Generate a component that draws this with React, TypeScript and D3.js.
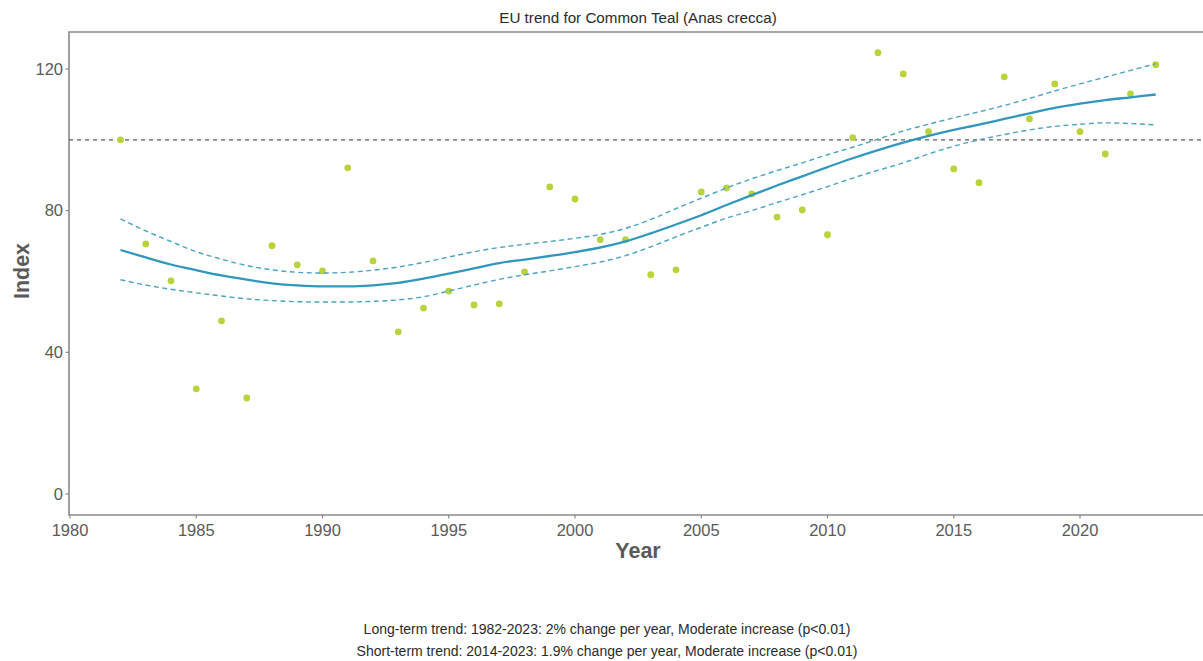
import React from "react";
import * as d3 from "d3";

const years: number[] = [
  1982, 1983, 1984, 1985, 1986, 1987, 1988, 1989, 1990, 1991, 1992, 1993, 1994, 1995,
  1996, 1997, 1998, 1999, 2000, 2001, 2002, 2003, 2004, 2005, 2006, 2007, 2008, 2009,
  2010, 2011, 2012, 2013, 2014, 2015, 2016, 2017, 2018, 2019, 2020, 2021, 2022, 2023,
];

const indexValues: number[] = [
  100, 70.6, 60.2, 29.7, 48.9, 27.1, 70.1, 64.7, 63, 92.1, 65.8, 45.8, 52.5, 57.3,
  53.4, 53.7, 62.7, 86.7, 83.3, 71.8, 71.8, 61.9, 63.3, 85.3, 86.4, 84.7, 78.2, 80.2,
  73.2, 100.6, 124.6, 118.6, 102.3, 91.8, 87.9, 117.8, 105.9, 115.8, 102.3, 96, 113, 121.2,
];

const trend: number[] = [
  68.9, 66.8, 64.8, 63.2, 61.7, 60.5, 59.5, 58.9, 58.6, 58.6, 58.9, 59.6, 60.8, 62.2,
  63.7, 65.2, 66.2, 67.2, 68.3, 69.6, 71.3, 73.6, 76.1, 78.7, 81.6, 84.4, 87.1, 89.7,
  92.3, 94.8, 97.1, 99.2, 101.1, 102.8, 104.3, 105.9, 107.5, 109.0, 110.2, 111.2, 112.0, 112.8,
];

const upper: number[] = [
  77.7, 74.3, 71.3, 68.4, 66.3, 64.5, 63.3, 62.6, 62.4, 62.6, 63.2, 64.1, 65.4, 66.9,
  68.4, 69.6, 70.5, 71.3, 72.2, 73.3, 75.0, 77.5, 80.6, 83.5, 86.4, 89.0, 91.3, 93.5,
  95.8, 97.9, 100.2, 102.5, 104.4, 106.2, 107.9, 109.7, 111.7, 113.8, 115.8, 117.7, 119.6, 121.5,
];

const lower: number[] = [
  60.5, 59.0, 57.8, 56.8, 55.9, 55.1, 54.6, 54.3, 54.2, 54.2, 54.4, 54.8, 55.7, 57.3,
  59.0, 60.6, 61.9, 63.0, 64.2, 65.5, 67.3, 69.8, 72.6, 75.3, 77.9, 80.0, 82.3, 84.5,
  86.8, 89.2, 91.4, 93.5, 96.0, 98.2, 100.0, 101.5, 102.8, 103.8, 104.4, 104.8, 104.6, 104.2,
];

const xTicks: number[] = [1980, 1985, 1990, 1995, 2000, 2005, 2010, 2015, 2020];
const yTicks: number[] = [0, 40, 80, 120];
const baseline = 100;

const title = "EU trend for Common Teal (Anas crecca)";
const footnotes: string[] = [
  "Long-term trend: 1982-2023: 2% change per year, Moderate increase (p<0.01)",
  "Short-term trend: 2014-2023: 1.9% change per year, Moderate increase (p<0.01)",
];

const W = 1203;
const H = 661;
const left = 69;
const top = 32;
const bottom = 515;
const right = 1215;

export default function App() {
  const x = d3.scaleLinear().domain([1980, 2020]).range([70, 1080]);
  const y = d3.scaleLinear().domain([0, 120]).range([494, 69]);

  const mk = (vals: number[]) =>
    d3
      .line<number>()
      .x((_, i) => x(years[i]))
      .y((v) => y(v))
      .curve(d3.curveMonotoneX)(vals) as string;

  const font = "'Liberation Sans', Arial, Helvetica, sans-serif";
  const axisGrey = "#8a8a8a";
  const textGrey = "#5a5a5a";

  return (
    <svg
      width={W}
      height={H}
      style={{ position: "absolute", left: 0, top: 0, background: "#fff" }}
      fontFamily={font}
    >
      <rect x={0} y={0} width={W} height={H} fill="#fff" />
      <text x={638} y={22.5} textAnchor="middle" fontSize={15.2} fill="#2b2b2b">
        {title}
      </text>

      {/* panel border */}
      <path
        d={`M${right},${top}H${left}V${bottom}H${right}`}
        fill="none"
        stroke={axisGrey}
        strokeWidth={1.6}
      />

      {/* baseline 100 */}
      <line
        x1={left}
        x2={W}
        y1={y(baseline)}
        y2={y(baseline)}
        stroke="#5d5d5d"
        strokeWidth={1.4}
        strokeDasharray="4,4"
      />

      {/* points */}
      {indexValues.map((v, i) => (
        <circle key={i} cx={x(years[i])} cy={y(v)} r={3.4} fill="#b9d33c" />
      ))}

      {/* CI */}
      <path d={mk(upper)} fill="none" stroke="#4aa3c4" strokeWidth={1.4} strokeDasharray="5,3.5" />
      <path d={mk(lower)} fill="none" stroke="#4aa3c4" strokeWidth={1.4} strokeDasharray="5,3.5" />
      <path d={mk(trend)} fill="none" stroke="#3197bd" strokeWidth={2.3} />

      {/* y axis */}
      {yTicks.map((t) => (
        <g key={t}>
          <line x1={left - 3.5} x2={left} y1={y(t)} y2={y(t)} stroke={axisGrey} strokeWidth={1.2} />
          <text x={left - 6} y={y(t) + 5.5} textAnchor="end" fontSize={16.5} fill={textGrey}>
            {t}
          </text>
        </g>
      ))}
      {/* x axis */}
      {xTicks.map((t) => (
        <g key={t}>
          <line x1={x(t)} x2={x(t)} y1={bottom} y2={bottom + 3.5} stroke={axisGrey} strokeWidth={1.2} />
          <text x={x(t)} y={bottom + 21} textAnchor="middle" fontSize={16.5} fill={textGrey}>
            {t}
          </text>
        </g>
      ))}

      <text
        transform={`translate(29,271) rotate(-90)`}
        textAnchor="middle"
        fontSize={21.5}
        fontWeight="bold"
        fill={textGrey}
      >
        Index
      </text>
      <text x={638} y={558} textAnchor="middle" fontSize={21.5} fontWeight="bold" fill={textGrey}>
        Year
      </text>

      {footnotes.map((f, i) => (
        <text key={i} x={607} y={634 + i * 22} textAnchor="middle" fontSize={14} fill="#2b2b2b">
          {f}
        </text>
      ))}
    </svg>
  );
}
